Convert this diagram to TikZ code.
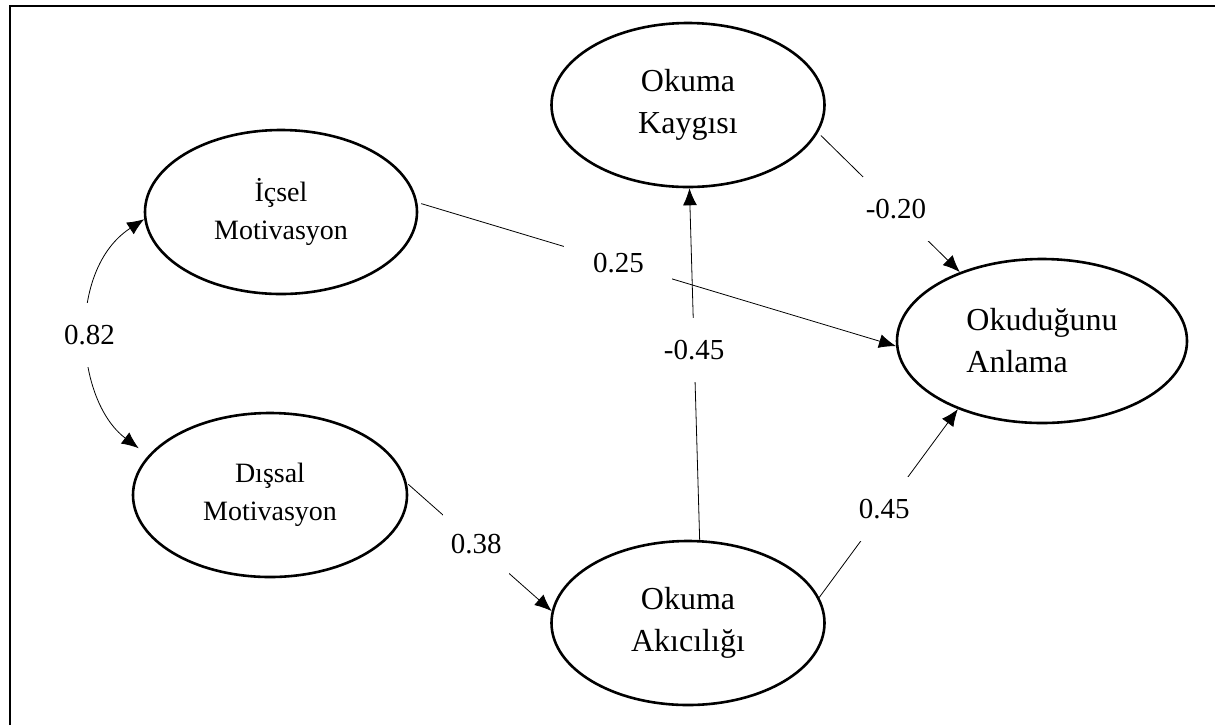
\documentclass[tikz,border=0pt]{standalone}
\usepackage{fontspec}
\setmainfont{Liberation Serif}
\usetikzlibrary{arrows.meta}
\usetikzlibrary{shapes.geometric}
\usetikzlibrary{positioning}

\tikzset{
  latent/.style={draw, ellipse, line width=1.3pt, inner sep=0pt, align=center,
    minimum height=82pt, font=\fontsize{16}{21}\selectfont},
  motiv/.style={latent, font=\fontsize{14}{19}\selectfont},
  lbl/.style={fill=white, inner sep=0pt, minimum width=33pt, minimum height=32pt,
    font=\fontsize{14.5}{17}\selectfont},
}

\begin{document}
\begin{tikzpicture}[x=0.5pt, y=-0.5pt, >={Latex[length=8.5pt,width=7pt]}]
    \useasboundingbox (0,0) rectangle (1215,725);
    % frame
    \draw[line width=1.1pt] (10,725) -- (10,6) -- (1215,6);

    % latent variables
    \node[motiv, minimum width=136pt] (IM) at (281,212) {İçsel\\Motivasyon};
    \node[motiv, minimum width=137pt] (DM) at (270,495) {Dışsal\\Motivasyon};
    \node[latent, minimum width=136.5pt] (OK) at (688,105) {Okuma\\Kaygısı};
    \node[latent, minimum width=136.5pt] (AK) at (688,623) {Okuma\\Akıcılığı};
    \node[latent, minimum width=145pt, align=left] (OA) at (1042,341) {Okuduğunu\\Anlama};

    % paths
    \draw[<->, shorten >=6pt] (IM.183) to [out=213, in=143] node[lbl] (w82) {0.82} (DM.162);
    \draw[->, shorten <=2pt] (IM.4) -- node[lbl, pos=0.42, minimum width=54pt] (w25) {0.25} (OA.182);
    \draw[->, shorten <=2pt] (OK.-12) -- node[lbl, pos=0.55] (w20) {-0.20} (OA.140);
    \draw[->, shorten <=1pt] (DM.5) -- node[lbl, pos=0.48] (w38) {0.38} (AK.175);
    \draw[->] (AK.11) -- node[lbl, pos=0.47] (w45) {0.45} (OA.219);
    \draw[->] (AK.82) -- node[lbl, pos=0.54] (wk45) {-0.45} (OK.-89);
\end{tikzpicture}
\end{document}
